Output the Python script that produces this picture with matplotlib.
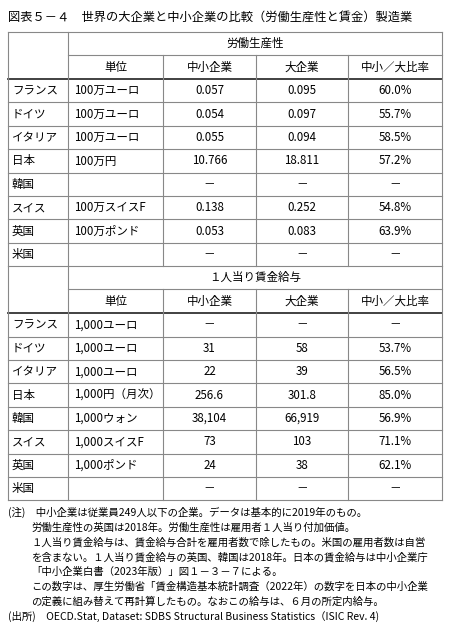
import matplotlib
matplotlib.use("Agg")
import matplotlib.pyplot as plt

plt.rcParams['font.family'] = ['Noto Sans CJK JP', 'DejaVu Sans']

title = "図表５－４　世界の大企業と中小企業の比較（労働生産性と賃金）製造業"
countries = ["フランス", "ドイツ", "イタリア", "日本", "韓国", "スイス", "英国", "米国"]
col_heads = ["単位", "中小企業", "大企業", "中小／大比率"]

prod_title = "労働生産性"
prod_unit = ["100万ユーロ", "100万ユーロ", "100万ユーロ", "100万円", "", "100万スイスF", "100万ポンド", ""]
prod_sme = ["0.057", "0.054", "0.055", "10.766", "－", "0.138", "0.053", "－"]
prod_large = ["0.095", "0.097", "0.094", "18.811", "－", "0.252", "0.083", "－"]
prod_ratio = ["60.0%", "55.7%", "58.5%", "57.2%", "－", "54.8%", "63.9%", "－"]

wage_title = "１人当り賃金給与"
wage_unit = ["1,000ユーロ", "1,000ユーロ", "1,000ユーロ", "1,000円（月次）", "1,000ウォン", "1,000スイスF", "1,000ポンド", ""]
wage_sme = ["－", "31", "22", "256.6", "38,104", "73", "24", "－"]
wage_large = ["－", "58", "39", "301.8", "66,919", "103", "38", "－"]
wage_ratio = ["－", "53.7%", "56.5%", "85.0%", "56.9%", "71.1%", "62.1%", "－"]

notes = [
    ("(注)　中小企業は従業員249人以下の企業。データは基本的に2019年のもの。", 8),
    ("労働生産性の英国は2018年。労働生産性は雇用者１人当り付加価値。", 31),
    ("１人当り賃金給与は、賃金給与合計を雇用者数で除したもの。米国の雇用者数は自営", 31),
    ("を含まない。１人当り賃金給与の英国、韓国は2018年。日本の賃金給与は中小企業庁", 31),
    ("「中小企業白書（2023年版）」図１－３－７による。", 31),
    ("この数字は、厚生労働省「賃金構造基本統計調査（2022年）の数字を日本の中小企業", 31),
    ("の定義に組み替えて再計算したもの。なおこの給与は、６月の所定内給与。", 31),
    ("(出所)　OECD.Stat, Dataset: SDBS Structural Business Statistics（ISIC Rev. 4)", 8),
]

W, H = 450, 636
fig = plt.figure(figsize=(W/100, H/100), dpi=100)
ax = fig.add_axes([0, 0, 1, 1])
ax.set_xlim(0, W); ax.set_ylim(H, 0); ax.axis('off')

xs = [8, 68, 163, 256, 348, 442]
lc = '#888888'
fs = 8.3
ax.text(8, 17, title, fontsize=8.8, va='center', ha='left')

def section(top, sec_title, unit, a, b, r):
    h1 = top + 23
    h2 = h1 + 24
    rh = 23.4
    bottom = h2 + rh * len(countries)
    ax.plot([xs[0], xs[-1]], [top, top], color=lc, lw=0.8)
    ax.plot([xs[1], xs[-1]], [h1, h1], color=lc, lw=0.8)
    ax.plot([xs[0], xs[-1]], [h2, h2], color='#333333', lw=1.3)
    for i in range(1, len(countries)):
        y = h2 + rh * i
        ax.plot([xs[0], xs[-1]], [y, y], color=lc, lw=0.8)
    ax.plot([xs[0], xs[0]], [top, bottom], color=lc, lw=0.8)
    ax.plot([xs[-1], xs[-1]], [top, bottom], color=lc, lw=0.8)
    ax.plot([xs[1], xs[1]], [top, bottom], color=lc, lw=0.8)
    for x in xs[2:-1]:
        ax.plot([x, x], [h1, bottom], color=lc, lw=0.8)
    ax.text((xs[1] + xs[-1]) / 2, (top + h1) / 2, sec_title, fontsize=fs, ha='center', va='center')
    for j, hd in enumerate(col_heads):
        ax.text((xs[j+1] + xs[j+2]) / 2, (h1 + h2) / 2, hd, fontsize=fs, ha='center', va='center')
    for i, c in enumerate(countries):
        yc = h2 + rh * (i + 0.5)
        ax.text(xs[0] + 4, yc, c, fontsize=fs, ha='left', va='center')
        ax.text(xs[1] + 6, yc, unit[i], fontsize=fs, ha='left', va='center')
        for j, v in enumerate([a[i], b[i], r[i]]):
            ax.text((xs[j+2] + xs[j+3]) / 2, yc, v, fontsize=fs, ha='center', va='center')
    return bottom

b1 = section(32, prod_title, prod_unit, prod_sme, prod_large, prod_ratio)
b2 = section(b1, wage_title, wage_unit, wage_sme, wage_large, wage_ratio)
ax.plot([xs[0], xs[-1]], [b2, b2], color=lc, lw=0.8)

y = b2 + 12
for t, x in notes:
    ax.text(x, y, t, fontsize=7.5, ha='left', va='center')
    y += 14.9

fig.savefig("out.png", dpi=100)
